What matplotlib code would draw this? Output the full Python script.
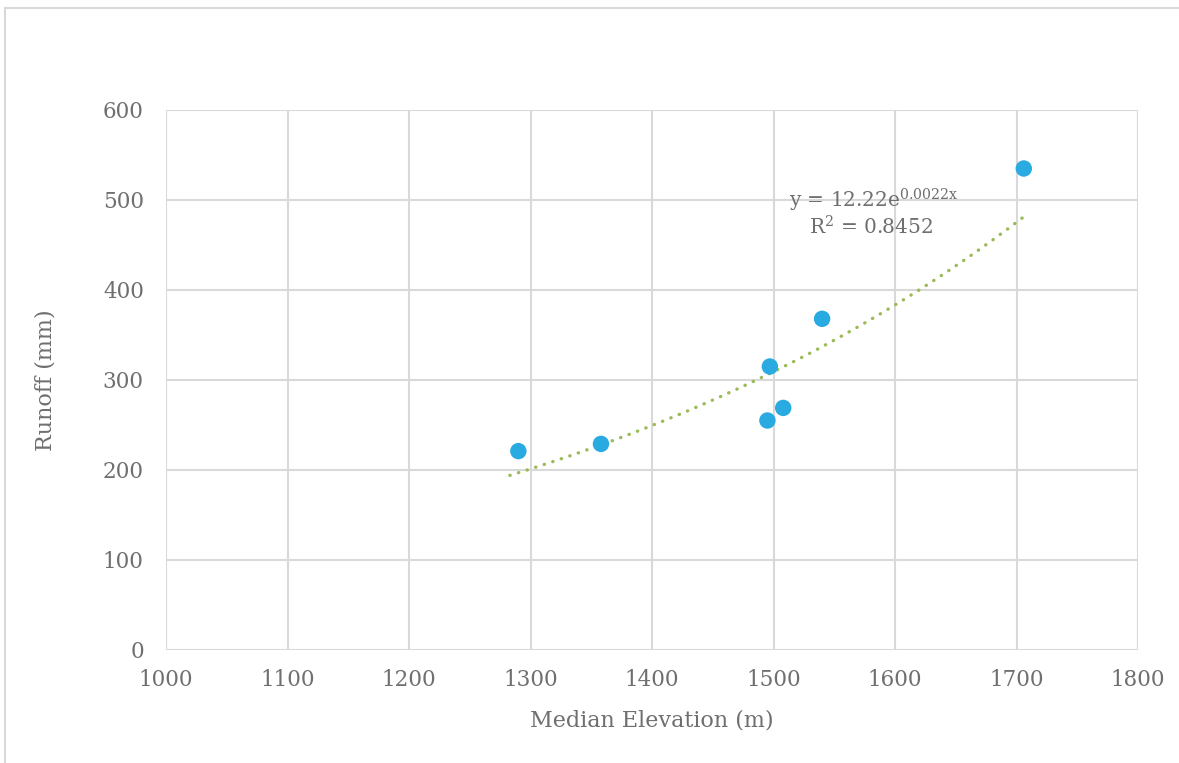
import numpy as np
import matplotlib
matplotlib.use("Agg")
import matplotlib.pyplot as plt
from matplotlib.patches import Rectangle

# Data
elevation = [1290, 1358, 1495, 1497, 1508, 1540, 1706]
runoff = [221, 229, 255, 315, 269, 368, 535]
x_ticks = [1000, 1100, 1200, 1300, 1400, 1500, 1600, 1700, 1800]
y_ticks = [0, 100, 200, 300, 400, 500, 600]
eq_text = "y = 12.22e$^{\\mathregular{0.0022x}}$"
r2_text = "R$^{\\mathregular{2}}$ = 0.8452"

plt.rcParams['font.family'] = ['DejaVu Serif']
plt.rcParams['mathtext.fontset'] = 'dejavuserif'
text_color = '#6f6f6f'
grid_color = '#d9d9d9'

fig = plt.figure(figsize=(11.79, 7.63), dpi=100)
ax = fig.add_axes([166/1179, 1 - 650/763, (1138-166)/1179, (650-110)/763])

# outer chart border (only left/top visible)
fig.patches.append(Rectangle((5/1179, -0.2), 1.2, 1.2 - 8/763,
                             transform=fig.transFigure, fill=False,
                             edgecolor=grid_color, linewidth=1.5))

ax.set_xlim(x_ticks[0], x_ticks[-1])
ax.set_ylim(y_ticks[0], y_ticks[-1])
ax.set_xticks(x_ticks)
ax.set_yticks(y_ticks)
ax.grid(True, color=grid_color, linewidth=1.5)
ax.set_axisbelow(True)
for s in ax.spines.values():
    s.set_visible(False)
ax.tick_params(length=0, labelsize=15.5, labelcolor=text_color)
ax.tick_params(axis='x', pad=14)
ax.tick_params(axis='y', pad=16)

# exponential trendline (log-linear least squares)
ex = np.array(elevation, float)
ry = np.array(runoff, float)
b, a = np.polyfit(ex, np.log(ry), 1)
xt = np.linspace(ex.min() - 7, ex.max(), 200)
ax.plot(xt, np.exp(a) * np.exp(b * xt), color='#9bbb59', linewidth=2.4,
        linestyle=(0, (0.1, 2.6)), dash_capstyle='round', zorder=2)

ax.scatter(elevation, runoff, s=140, color='#29abe2', edgecolor='none', zorder=3)

ax.text(1513, 500, eq_text, fontsize=14.5, color=text_color, ha='left', va='center')
ax.text(1529, 470, r2_text, fontsize=14.5, color=text_color, ha='left', va='center')

ax.set_xlabel("Median Elevation (m)", fontsize=16, color=text_color, labelpad=13)
ax.set_ylabel("Runoff (mm)", fontsize=16, color=text_color, labelpad=33)

fig.savefig("out.png", dpi=100, facecolor='white')
